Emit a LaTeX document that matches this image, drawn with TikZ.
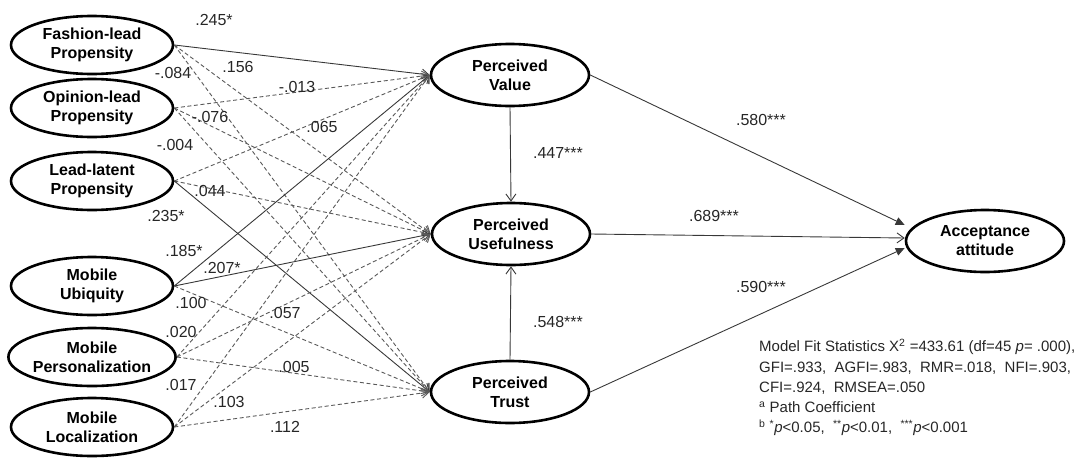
\documentclass[tikz,border=0pt]{standalone}
\usepackage{fontspec}
\setmainfont{Liberation Sans}
\usetikzlibrary{shapes.geometric,arrows.meta,calc}
\tikzset{
  lat/.style={ellipse, draw=black, line width=2.6pt, fill=white, inner sep=0pt,
    minimum width=162pt, minimum height=58pt, align=center,
    font=\fontsize{16}{19}\selectfont\bfseries},
  mid/.style={lat, minimum width=158pt, minimum height=62pt},
  sol/.style={draw=black!78, line width=0.9pt, -{Straight Barb[length=7pt,width=10pt]}},
  dsh/.style={sol, draw=black!65, dash pattern=on 4pt off 2.6pt},
  tri/.style={draw=black!78, line width=0.9pt, -{Triangle[length=9pt,width=8pt]}},
  lab/.style={inner sep=0pt, font=\fontsize{16}{18}\selectfont, text=black!85},
}
\begin{document}
\begin{tikzpicture}[x=1pt,y=-1pt]
\useasboundingbox (0,0) rectangle (1081,464);
% left nodes
\node[lat] (fl) at (92,45) {Fashion-lead\\Propensity};
\node[lat] (ol) at (92,108) {Opinion-lead\\Propensity};
\node[lat] (ll) at (92,181) {Lead-latent\\Propensity};
\node[lat] (mu) at (92,286) {Mobile\\Ubiquity};
\node[lat] (mp) at (92,357) {Mobile\\Personalization};
\node[lat] (ml) at (92,427) {Mobile\\Localization};
% middle nodes
\node[mid] (pv) at (510,75) {Perceived\\Value};
\node[mid] (pu) at (511,234) {Perceived\\Usefulness};
\node[mid] (pt) at (510,392) {Perceived\\Trust};
% right node
\node[mid] (aa) at (985,241) {Acceptance\\attitude};
% left-to-middle paths
\draw[sol] (fl.east) -- (pv.west);
\draw[dsh] (fl.east) -- (pu.west);
\draw[dsh] (fl.east) -- (pt.west);
\draw[dsh] (ol.east) -- (pv.west);
\draw[dsh] (ol.east) -- (pu.west);
\draw[dsh] (ol.east) -- (pt.west);
\draw[dsh] (ll.east) -- (pv.west);
\draw[dsh] (ll.east) -- (pu.west);
\draw[sol] (ll.east) -- (pt.west);
\draw[sol] (mu.east) -- (pv.west);
\draw[sol] (mu.east) -- (pu.west);
\draw[dsh] (mu.east) -- (pt.west);
\draw[dsh] (mp.east) -- (pv.west);
\draw[dsh] (mp.east) -- (pu.west);
\draw[dsh] (mp.east) -- (pt.west);
\draw[dsh] (ml.east) -- (pv.west);
\draw[dsh] (ml.east) -- (pu.west);
\draw[dsh] (ml.east) -- (pt.west);
% middle paths
\draw[sol] (pv.south) -- (pu.north);
\draw[sol] (pt.north) -- (pu.south);
\draw[tri] (pv.east) -- ($(aa.west)+(0,-16)$);
\draw[sol] (pu.east) -- ($(aa.west)+(0,-3)$);
\draw[tri] (pt.east) -- ($(aa.west)+(0,7)$);
% coefficient labels
\node[lab] (c1) at (214,20) {.245*};
\node[lab] (c2) at (238,67) {.156};
\node[lab] (c3) at (173,73) {-.084};
\node[lab] (c4) at (297,87) {-.013};
\node[lab] (c5) at (210,117) {-.076};
\node[lab] (c6) at (322,127) {.065};
\node[lab] (c7) at (175,145) {-.004};
\node[lab] (c8) at (210,191) {.044};
\node[lab] (c9) at (166,216) {.235*};
\node[lab] (c10) at (184,251) {.185*};
\node[lab] (c11) at (222,268) {.207*};
\node[lab] (c12) at (191,303) {.100};
\node[lab] (c13) at (285,313) {.057};
\node[lab] (c14) at (181,332) {.020};
\node[lab] (c15) at (294,367) {.005};
\node[lab] (c16) at (181,385) {.017};
\node[lab] (c17) at (229,402) {.103};
\node[lab] (c18) at (285,427) {.112};
\node[lab] (c19) at (558,153) {.447***};
\node[lab] (c20) at (558,322) {.548***};
\node[lab] (c21) at (761,120) {.580***};
\node[lab] (c22) at (714,216) {.689***};
\node[lab] (c23) at (761,287) {.590***};
% legend
\node[lab, anchor=north west, align=left, font=\fontsize{15}{20.3}\selectfont] (leg) at (759,339)
{Model Fit Statistics X\textsuperscript{2} =433.61 (df=45 \textit{p}= .000),\\
GFI=.933,\ \ AGFI=.983,\ \ RMR=.018,\ \ NFI=.903,\\
CFI=.924,\ \ RMSEA=.050\\
\textsuperscript{a} Path Coefficient\\
\textsuperscript{b} \textsuperscript{*}\textit{p}<0.05,\ \ \textsuperscript{**}\textit{p}<0.01,\ \ \textsuperscript{***}\textit{p}<0.001};
\end{tikzpicture}
\end{document}
